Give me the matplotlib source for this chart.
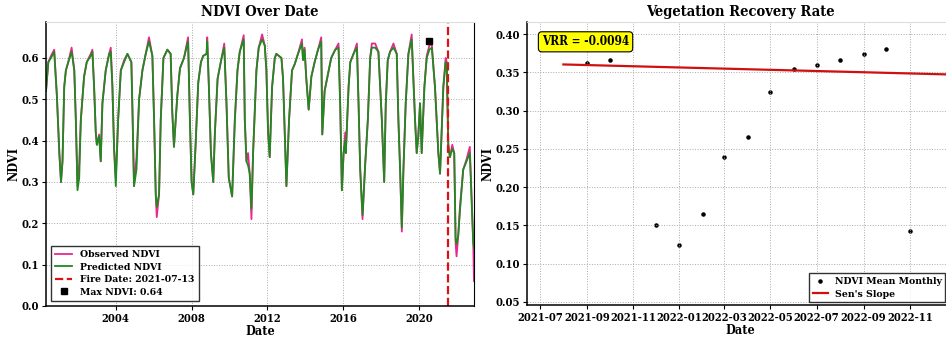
import matplotlib
matplotlib.use("Agg")
import matplotlib.pyplot as plt
import matplotlib.dates as mdates
import pandas as pd

plt.rcParams["font.family"] = ["DejaVu Serif"]
plt.rcParams["font.stretch"] = "condensed"
plt.rcParams["font.weight"] = "bold"
plt.rcParams["axes.labelweight"] = "bold"
plt.rcParams["axes.titleweight"] = "bold"

# ---- NDVI time series (observed vs. predicted) ----
dates = [
    "2000-04-26", "2000-06-10", "2000-07-31", "2000-10-01", "2000-11-21", "2001-01-08", "2001-02-09",
    "2001-03-10", "2001-04-12", "2001-05-14", "2001-06-29", "2001-09-02", "2001-10-23", "2001-11-22",
    "2001-12-24", "2002-01-26", "2002-02-26", "2002-04-30", "2002-06-20", "2002-09-05", "2002-10-07",
    "2002-11-09", "2002-12-11", "2003-01-01", "2003-02-14", "2003-03-17", "2003-04-18", "2003-06-21",
    "2003-08-26", "2003-09-26", "2003-10-28", "2003-11-29", "2004-01-01", "2004-02-15", "2004-04-07",
    "2004-06-10", "2004-08-12", "2004-10-27", "2004-11-16", "2004-12-17", "2005-02-03", "2005-03-25",
    "2005-05-28", "2005-07-31", "2005-10-02", "2005-12-06", "2006-01-08", "2006-02-09", "2006-02-28",
    "2006-04-14", "2006-05-16", "2006-07-07", "2006-09-21", "2006-11-23", "2006-12-24", "2007-01-26",
    "2007-04-01", "2007-05-22", "2007-08-07", "2007-10-25", "2007-11-29", "2008-01-01", "2008-02-02",
    "2008-03-18", "2008-05-08", "2008-06-29", "2008-08-11", "2008-10-16", "2008-10-28", "2008-11-29",
    "2009-01-07", "2009-02-21", "2009-03-25", "2009-05-16", "2009-08-01", "2009-09-21", "2009-11-03",
    "2009-12-17", "2010-02-20", "2010-04-13", "2010-06-03", "2010-07-17", "2010-10-01", "2010-10-22",
    "2010-11-23", "2010-12-24", "2011-01-25", "2011-02-27", "2011-03-31", "2011-06-03", "2011-07-17",
    "2011-09-21", "2011-11-11", "2011-12-12", "2012-01-14", "2012-02-14", "2012-03-31", "2012-05-22",
    "2012-06-21", "2012-09-27", "2012-10-28", "2012-11-29", "2013-01-01", "2013-02-21", "2013-04-19",
    "2013-06-10", "2013-08-12", "2013-10-28", "2013-11-17", "2013-12-17", "2014-01-19", "2014-03-06",
    "2014-04-27", "2014-06-29", "2014-09-02", "2014-11-03", "2014-11-23", "2015-01-07", "2015-03-12",
    "2015-05-14", "2015-07-31", "2015-10-02", "2015-11-03", "2015-12-06", "2016-01-08", "2016-02-09",
    "2016-02-20", "2016-04-13", "2016-05-16", "2016-07-17", "2016-09-21", "2016-10-22", "2016-11-23",
    "2017-01-07", "2017-02-27", "2017-04-19", "2017-06-03", "2017-07-05", "2017-09-07", "2017-11-09",
    "2018-01-14", "2018-02-28", "2018-03-31", "2018-05-08", "2018-06-21", "2018-08-26", "2018-10-28",
    "2018-11-29", "2019-01-01", "2019-02-03", "2019-03-06", "2019-04-19", "2019-06-10", "2019-08-12",
    "2019-10-16", "2019-11-17", "2019-12-17", "2020-01-20", "2020-02-21", "2020-04-13", "2020-05-28",
    "2020-07-17", "2020-09-02", "2020-11-03", "2021-01-07", "2021-02-09", "2021-04-13", "2021-05-28",
    "2021-06-18", "2021-07-17", "2021-08-18", "2021-10-02", "2021-11-09", "2021-12-06", "2021-12-24",
    "2022-01-25", "2022-02-27", "2022-05-01", "2022-07-05", "2022-09-05", "2022-11-09", "2022-11-25",
]
observed = [
    0.52, 0.59, 0.605, 0.62, 0.51, 0.37, 0.30,
    0.35, 0.53, 0.57, 0.59, 0.625, 0.57, 0.45,
    0.29, 0.345, 0.45, 0.555, 0.59, 0.61, 0.62,
    0.53, 0.42, 0.39, 0.415, 0.35, 0.49, 0.57,
    0.61, 0.625, 0.53, 0.38, 0.31, 0.45, 0.57,
    0.595, 0.61, 0.59, 0.48, 0.29, 0.36, 0.50,
    0.57, 0.61, 0.65, 0.605, 0.45, 0.27, 0.215,
    0.27, 0.45, 0.60, 0.62, 0.61, 0.47, 0.385,
    0.51, 0.575, 0.60, 0.65, 0.45, 0.30, 0.27,
    0.39, 0.54, 0.59, 0.605, 0.61, 0.65, 0.53,
    0.37, 0.30, 0.42, 0.55, 0.60, 0.635, 0.49,
    0.31, 0.265, 0.45, 0.57, 0.615, 0.655, 0.45,
    0.35, 0.37, 0.32, 0.21, 0.37, 0.57, 0.625,
    0.657, 0.63, 0.57, 0.42, 0.36, 0.53, 0.60,
    0.61, 0.60, 0.55, 0.42, 0.29, 0.45, 0.57,
    0.585, 0.61, 0.645, 0.595, 0.625, 0.55, 0.475,
    0.555, 0.59, 0.62, 0.65, 0.415, 0.52, 0.56,
    0.60, 0.62, 0.635, 0.49, 0.28, 0.37, 0.42,
    0.37, 0.53, 0.59, 0.61, 0.635, 0.49, 0.33,
    0.21, 0.345, 0.45, 0.60, 0.635, 0.635, 0.615,
    0.45, 0.30, 0.49, 0.595, 0.615, 0.635, 0.61,
    0.45, 0.33, 0.18, 0.33, 0.49, 0.61, 0.657,
    0.45, 0.37, 0.41, 0.49, 0.37, 0.53, 0.605,
    0.63, 0.635, 0.53, 0.37, 0.32, 0.53, 0.60,
    0.59, 0.39, 0.36, 0.39, 0.37, 0.15, 0.12,
    0.17, 0.24, 0.33, 0.355, 0.385, 0.16, 0.06,
]
predicted = [
    0.52, 0.59, 0.600, 0.615, 0.51, 0.37, 0.30,
    0.35, 0.53, 0.57, 0.59, 0.615, 0.57, 0.45,
    0.28, 0.31, 0.45, 0.555, 0.59, 0.605, 0.615,
    0.53, 0.42, 0.39, 0.41, 0.35, 0.49, 0.57,
    0.61, 0.615, 0.53, 0.38, 0.29, 0.45, 0.57,
    0.59, 0.61, 0.59, 0.48, 0.29, 0.33, 0.50,
    0.57, 0.61, 0.64, 0.605, 0.45, 0.27, 0.24,
    0.27, 0.45, 0.60, 0.62, 0.61, 0.47, 0.385,
    0.51, 0.575, 0.60, 0.64, 0.45, 0.30, 0.27,
    0.39, 0.54, 0.59, 0.605, 0.61, 0.64, 0.53,
    0.37, 0.30, 0.42, 0.55, 0.60, 0.625, 0.49,
    0.31, 0.265, 0.45, 0.57, 0.615, 0.645, 0.45,
    0.35, 0.34, 0.32, 0.235, 0.37, 0.57, 0.625,
    0.645, 0.63, 0.57, 0.42, 0.36, 0.53, 0.60,
    0.61, 0.60, 0.55, 0.42, 0.29, 0.45, 0.57,
    0.585, 0.61, 0.635, 0.595, 0.62, 0.55, 0.475,
    0.555, 0.59, 0.62, 0.64, 0.415, 0.52, 0.56,
    0.60, 0.62, 0.625, 0.49, 0.28, 0.37, 0.40,
    0.37, 0.53, 0.59, 0.61, 0.625, 0.49, 0.33,
    0.22, 0.34, 0.45, 0.60, 0.625, 0.625, 0.615,
    0.45, 0.30, 0.49, 0.595, 0.615, 0.625, 0.61,
    0.45, 0.33, 0.19, 0.33, 0.49, 0.61, 0.645,
    0.45, 0.37, 0.41, 0.49, 0.37, 0.53, 0.60,
    0.62, 0.625, 0.53, 0.37, 0.32, 0.53, 0.59,
    0.58, 0.39, 0.36, 0.38, 0.37, 0.16, 0.15,
    0.17, 0.23, 0.33, 0.35, 0.37, 0.155, 0.14,
]
fire_date = "2021-07-13"
max_date = "2020-07-17"
max_ndvi = 0.64

# ---- Monthly mean NDVI after the fire and Sen's slope trend ----
months = ["2021-09-01", "2021-10-01", "2021-12-01", "2022-01-01", "2022-02-01", "2022-03-01",
          "2022-04-01", "2022-05-01", "2022-06-01", "2022-07-01", "2022-08-01", "2022-09-01",
          "2022-10-01", "2022-11-01"]
monthly_mean = [0.362, 0.366, 0.150, 0.125, 0.165, 0.240, 0.265, 0.325, 0.355, 0.360,
                0.366, 0.374, 0.381, 0.143]
slope_dates = ["2021-08-01", "2022-12-31"]
slope_intercept = 0.3605
vrr = -0.0094  # NDVI change per year

t = pd.to_datetime(dates)
fd = pd.to_datetime(fire_date)

fig = plt.figure(figsize=(9.46, 3.37), dpi=100)
W, H = 946, 337
ax1 = fig.add_axes([46 / W, 1 - 306 / H, (474 - 46) / W, (306 - 22) / H])
ax2 = fig.add_axes([527 / W, 1 - 305 / H, (953 - 527) / W, (305 - 22) / H])

ax1.plot(t, observed, color="#e8288e", lw=1.3, label="Observed NDVI")
ax1.plot(t, predicted, color="#1f8a1f", lw=1.3, label="Predicted NDVI")
ax1.axvline(fd, color="#e01010", ls="--", lw=1.6, label=f"Fire Date: {fire_date}")
ax1.plot(pd.to_datetime([max_date]), [max_ndvi], "s", color="black", ms=5, ls="none",
         label=f"Max NDVI: {max_ndvi:.2f}")
ax1.set_xlim(t[0], t[-1])
ax1.set_ylim(0, 0.687)
ax1.xaxis.set_major_locator(mdates.YearLocator(4))
ax1.xaxis.set_major_formatter(mdates.DateFormatter("%Y"))
ax1.set_yticks([0.0, 0.1, 0.2, 0.3, 0.4, 0.5, 0.6])
ax1.grid(True, ls=":", color="#aaaaaa", lw=0.7)
ax1.set_title("NDVI Over Date", fontsize=10.5, pad=4)
ax1.set_xlabel("Date", fontsize=9, labelpad=1)
ax1.set_ylabel("NDVI", fontsize=9, labelpad=1)
leg1 = ax1.legend(loc="lower left", fontsize=7.5, frameon=True, fancybox=False,
                  edgecolor="black", borderpad=0.4, handlelength=1.6, labelspacing=0.3)
leg1.get_frame().set_linewidth(1.0)

ax2.scatter(pd.to_datetime(months), monthly_mean, s=5, color="black", label="NDVI Mean Monthly")
sd = pd.to_datetime(slope_dates)
years_elapsed = [(d - sd[0]).days / 365.25 for d in sd]
ax2.plot(sd, [slope_intercept + vrr * y for y in years_elapsed], color="#d01010", lw=1.6,
         label="Sen's Slope")
ax2.set_xlim(pd.Timestamp("2021-06-14"), pd.Timestamp("2022-12-28"))
ax2.set_ylim(0.046, 0.416)
ax2.xaxis.set_major_locator(mdates.MonthLocator(bymonth=[1, 3, 5, 7, 9, 11]))
ax2.xaxis.set_major_formatter(mdates.DateFormatter("%Y-%m"))
ax2.set_yticks([0.05, 0.10, 0.15, 0.20, 0.25, 0.30, 0.35, 0.40])
ax2.grid(True, ls=":", color="#aaaaaa", lw=0.7)
ax2.set_title("Vegetation Recovery Rate", fontsize=10.5, pad=4)
ax2.set_xlabel("Date", fontsize=9, labelpad=1)
ax2.set_ylabel("NDVI", fontsize=9, labelpad=1)
ax2.text(0.035, 0.93, f"VRR = {vrr:.4f}", transform=ax2.transAxes, fontsize=8.5,
         fontweight="bold", va="center", ha="left",
         bbox=dict(boxstyle="round,pad=0.3", facecolor="#ffff00", edgecolor="black", lw=0.8))
leg2 = ax2.legend(loc="lower left", bbox_to_anchor=((809 - 527) / (953 - 527), 0.01),
                  borderaxespad=0, fontsize=7.5, frameon=True, fancybox=False,
                  edgecolor="black", borderpad=0.35, labelspacing=0.3,
                  handlelength=1.5, handletextpad=0.6)

for ax in (ax1, ax2):
    ax.tick_params(labelsize=8, length=3, pad=2)
    for lab in ax.get_xticklabels() + ax.get_yticklabels():
        lab.set_fontweight("bold")
    ax.spines["top"].set_color("#dddddd")
    for s in ("left", "bottom"):
        ax.spines[s].set_linewidth(1.1)

fig.savefig("out.png", dpi=100)
